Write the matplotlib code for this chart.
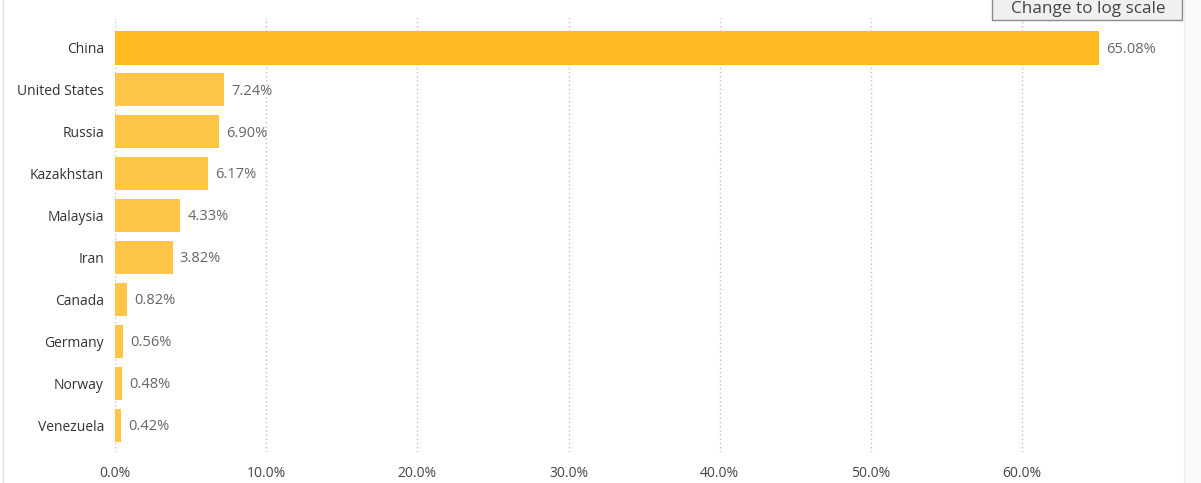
import numpy as np
import matplotlib.pyplot as plt
from matplotlib.patches import Rectangle

plt.rcParams['font.family'] = ['Open Sans', 'DejaVu Sans']

countries = ['China', 'United States', 'Russia', 'Kazakhstan', 'Malaysia',
             'Iran', 'Canada', 'Germany', 'Norway', 'Venezuela']
shares = [65.08, 7.24, 6.90, 6.17, 4.33, 3.82, 0.82, 0.56, 0.48, 0.42]
ticks = [0, 10, 20, 30, 40, 50, 60]

W, H = 1201, 483
fig = plt.figure(figsize=(W / 100, H / 100), dpi=100)

# axes: 0% at x=115, 10% every ~151px, plot area from y=18 to y=452
x0, x1 = 115, 1180
ax = fig.add_axes([x0 / W, (H - 452) / H, (x1 - x0) / W, 434 / H])
xmax = (x1 - x0) / 15.12
ax.set_xlim(0, xmax)
ax.set_ylim(9.64, -0.715)

colors = ['#FFBA22'] + ['#FFC546'] * (len(countries) - 1)
y = np.arange(len(countries))
ax.barh(y, shares, height=0.79, color=colors, zorder=2)

for yi, v in zip(y, shares):
    ax.text(v + 0.45, yi + 0.03, f'{v:.2f}%', va='center', ha='left',
            fontsize=10.5, color='#666666')

ax.set_yticks(y)
ax.set_yticklabels(countries, fontsize=10, color='#333333')
ax.set_xticks(ticks)
ax.set_xticklabels([f'{t:.1f}%' for t in ticks], fontsize=10, color='#444444')
ax.tick_params(axis='both', length=0)
ax.tick_params(axis='y', pad=8)
ax.tick_params(axis='x', pad=10)

ax.grid(axis='x', color='#c0c0c0', linestyle=(0, (1, 2)), linewidth=1, zorder=0)
for s in ax.spines.values():
    s.set_visible(False)

# frame lines of the surrounding page
fig.add_artist(plt.Line2D([3 / W, 3 / W], [0, 1], color='#e0e0e0', lw=1))
fig.add_artist(Rectangle((1184 / W, 0), (W - 1184) / W, 1, facecolor='#f9f9f9',
                         edgecolor='none', transform=fig.transFigure))
fig.add_artist(plt.Line2D([1184 / W, 1184 / W], [0, 1], color='#ececec', lw=1))

# button in the top right corner
fig.add_artist(Rectangle((992 / W, (H - 20) / H), 190 / W, 30 / H,
                         facecolor='#f0f0f0', edgecolor='#8a8a8a', lw=1,
                         transform=fig.transFigure, clip_on=False))
fig.text(1088 / W, (H - 9) / H, 'Change to log scale', ha='center', va='center',
         fontsize=12.3, color='#444444')

fig.savefig('out.png', dpi=100)
